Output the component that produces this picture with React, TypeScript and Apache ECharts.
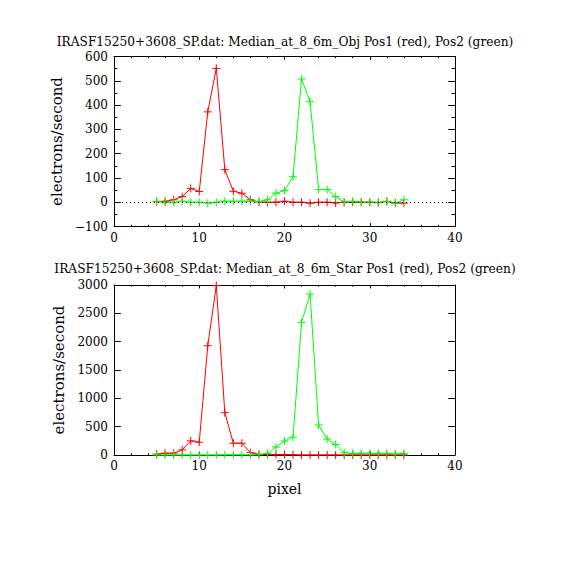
import React, { useEffect, useRef } from "react";
import * as echarts from "echarts";

const pixels = [5, 6, 7, 8, 9, 10, 11, 12, 13, 14, 15, 16, 17, 18, 19, 20, 21, 22, 23, 24, 25, 26, 27, 28, 29, 30, 31, 32, 33, 34];
const objRed = [2, 4, 10, 23, 57, 44, 372, 551, 134, 45, 37, 10, 1, 0, 0, 4, 0, 0, -4, 0, 0, -3, 0, 0, 0, 0, -2, 3, -3, -4];
const objGreen = [4, 0, 0, 4, 0, 0, -4, 0, 4, 4, 4, 4, 3, 10, 37, 48, 105, 507, 414, 52, 52, 23, 0, 4, 0, 0, 0, 4, -4, 10];
const starRed = [15, 32, 32, 90, 250, 226, 1929, 2990, 747, 208, 208, 42, 12, 10, 10, 10, 5, 0, 0, 0, 0, 0, 0, 0, 0, 0, 0, 0, 0, 0];
const starGreen = [0, 0, 0, 0, 0, 0, 0, 0, 3, 3, 3, 3, 5, 29, 142, 247, 315, 2340, 2841, 530, 280, 185, 41, 29, 29, 29, 29, 29, 18, 29];

const xTicks = [0, 10, 20, 30, 40];
const titleTop = "IRASF15250+3608_SP.dat: Median_at_8_6m_Obj Pos1 (red), Pos2 (green)";
const titleBottom = "IRASF15250+3608_SP.dat: Median_at_8_6m_Star Pos1 (red), Pos2 (green)";
const yName = "electrons/second";
const xName = "pixel";

const FONT = "DejaVu Serif";
const PLUS = "path://M0,4L8,4M4,0L4,8";

export default function App() {
  const ref = useRef<HTMLDivElement>(null);
  useEffect(() => {
    if (!ref.current) return;
    const chart = echarts.init(ref.current, null, { renderer: "svg" });
    const axLine = { show: true, onZero: false, lineStyle: { color: "#000", width: 1 } };
    const labelStyle = {
      color: "#000",
      fontFamily: FONT,
      fontSize: 12,
      lineHeight: 12,
      formatter: (v: number) => String(v).replace("-", "\u2212"),
    };
    const xBase = (grid: number, pos: "bottom" | "top", labels: boolean, name?: string) => ({
      type: "value",
      gridIndex: grid,
      position: pos,
      min: xTicks[0],
      max: xTicks[xTicks.length - 1],
      interval: 10,
      axisLine: axLine,
      axisTick: { show: true, inside: true, length: 3.4, lineStyle: { color: "#000" } },
      minorTick: { show: true, splitNumber: 5, length: 1.7, lineStyle: { color: "#000" } },
      splitLine: { show: false },
      axisLabel: labels ? { ...labelStyle, margin: 5 } : { show: false },
      name: name || "",
      nameLocation: "middle",
      nameGap: 27,
      nameTextStyle: { color: "#000", fontFamily: FONT, fontSize: 14 },
    });
    const yBase = (
      grid: number,
      pos: "left" | "right",
      labels: boolean,
      min: number,
      max: number,
      interval: number,
      minorSplit: number
    ) => ({
      type: "value",
      gridIndex: grid,
      position: pos,
      min,
      max,
      interval,
      axisLine: axLine,
      axisTick: { show: true, inside: true, length: 6.8, lineStyle: { color: "#000" } },
      minorTick: { show: minorSplit > 1, splitNumber: minorSplit, length: 3.4, lineStyle: { color: "#000" } },
      splitLine: { show: false },
      axisLabel: labels ? { ...labelStyle, margin: 6 } : { show: false },
      name: labels ? yName : "",
      nameLocation: "middle",
      nameGap: 47,
      nameTextStyle: { color: "#000", fontFamily: FONT, fontSize: 15 },
    });
    const mk = (data: number[], color: string, xi: number, yi: number, extra: any = {}) => ({
      type: "line",
      xAxisIndex: xi,
      yAxisIndex: yi,
      data: pixels.map((p, i) => [p, data[i]]),
      symbol: PLUS,
      symbolSize: 8,
      showSymbol: true,
      lineStyle: { color, width: 1 },
      itemStyle: { color, borderColor: color, borderWidth: 1 },
      silent: true,
      ...extra,
    });
    const tStyle = { fontFamily: FONT, fontSize: 12.2, lineHeight: 12, fontWeight: "normal", color: "#000" };
    chart.setOption({
      animation: false,
      backgroundColor: "#fff",
      title: [
        { text: titleTop, left: "center", top: 36, padding: 0, textStyle: tStyle },
        { text: titleBottom, left: "center", top: 263, padding: 0, textStyle: tStyle },
      ],
      grid: [
        { left: 114, top: 56.5, width: 341, height: 170 },
        { left: 114, top: 285, width: 341, height: 170 },
      ],
      xAxis: [
        xBase(0, "bottom", true),
        xBase(0, "top", false),
        xBase(1, "bottom", true, xName),
        xBase(1, "top", false),
      ],
      yAxis: [
        yBase(0, "left", true, -100, 600, 100, 2),
        yBase(0, "right", false, -100, 600, 100, 2),
        yBase(1, "left", true, 0, 3000, 500, 0),
        yBase(1, "right", false, 0, 3000, 500, 0),
      ],
      series: [
        mk(objRed, "#ff0000", 0, 0, {
          markLine: {
            silent: true,
            symbol: "none",
            label: { show: false },
            lineStyle: { color: "#000", type: [1, 3], width: 1 },
            data: [{ yAxis: 0 }],
          },
        }),
        mk(objGreen, "#00ff00", 0, 0),
        mk(starRed, "#ff0000", 2, 2),
        mk(starGreen, "#00ff00", 2, 2),
      ],
    });
    return () => chart.dispose();
  }, []);
  return (
    <div
      ref={ref}
      style={{ position: "fixed", left: 0, top: 0, width: 570, height: 570, background: "#fff" }}
    />
  );
}
